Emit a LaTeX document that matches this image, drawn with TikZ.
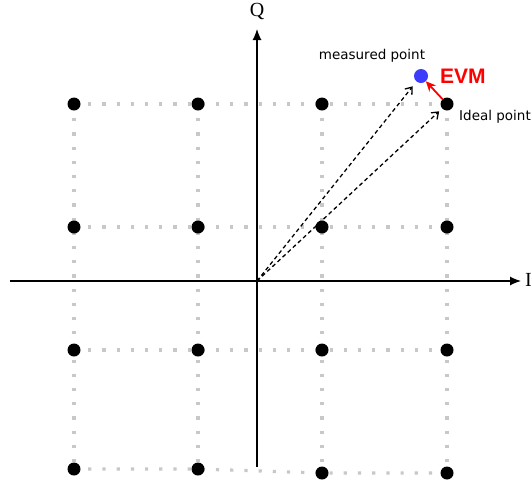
\documentclass[tikz,border=0pt]{standalone}
\usepackage{fontspec}
\setmainfont{Liberation Serif}
\newfontfamily\labfont{DejaVu Sans}
\newfontfamily\evmfont{Liberation Sans}
\usetikzlibrary{arrows.meta,backgrounds}
\definecolor{gridgray}{RGB}{200,200,200}
\definecolor{mblue}{RGB}{60,60,250}
\begin{document}
\begin{tikzpicture}[x=1pt,y=-1pt,
  dot/.style={circle,fill=black,inner sep=0pt,minimum size=13pt},
  mdot/.style={circle,fill=mblue,inner sep=0pt,minimum size=14pt},
  gridline/.style={gridgray,line width=3.2pt,dash pattern=on 3.2pt off 11pt},
  axis/.style={line width=1.2pt,-{Latex[length=11pt,width=9pt]}},
  vec/.style={line width=1.3pt,dash pattern=on 4pt off 3pt,-{Straight Barb[length=6pt,width=9pt]}},
  evmarrow/.style={red,line width=1.8pt,-{Stealth[length=10pt,width=9pt]}},
  small/.style={font=\labfont\fontsize{13.5}{16}\selectfont,inner sep=0pt},
  axlabel/.style={font=\fontsize{20}{24}\selectfont,inner sep=0pt}
]
\useasboundingbox (0,0) rectangle (532,483);
% constellation points
\node[dot] (a1) at (74,104) {};
\node[dot] (a2) at (198,104) {};
\node[dot] (a3) at (322,104) {};
\node[dot] (a4) at (447,104) {};
\node[dot] (b1) at (74,227) {};
\node[dot] (b2) at (198,227) {};
\node[dot] (b3) at (322,227) {};
\node[dot] (b4) at (447,227) {};
\node[dot] (c1) at (74,350) {};
\node[dot] (c2) at (198,350) {};
\node[dot] (c3) at (322,350) {};
\node[dot] (c4) at (447,350) {};
\node[dot] (d1) at (74,469) {};
\node[dot] (d2) at (198,469) {};
\node[dot] (d3) at (322,473) {};
\node[dot] (d4) at (447,473) {};
\node[mdot] (m) at (421,76) {};
% grid
\begin{scope}[on background layer]
\foreach \r in {a,b,c,d}{
  \draw[gridline] (\r1.center) -- (\r2.center) -- (\r3.center) -- (\r4.center);
}
\foreach \c in {1,2,3,4}{
  \draw[gridline] (a\c.center) -- (b\c.center) -- (c\c.center) -- (d\c.center);
}
\end{scope}
% axes
\coordinate (o) at (257,281);
\coordinate (xl) at (10,281);
\coordinate (xr) at (521,281);
\coordinate (yb) at (257,467);
\coordinate (yt) at (257,29);
\draw[axis] (xl) -- (xr);
\draw[axis] (yb) -- (yt);
\node[axlabel] (Q) at (257,11) {Q};
\node[axlabel,anchor=west] (I) at (525,280) {I};
% vectors
\draw[vec,shorten >=6pt] (o) -- (m);
\draw[vec,shorten >=4pt] (o) -- (a4);
\draw[evmarrow] (a4) -- (m);
% labels
\node[small] (ml) at (372,56) {measured point};
\node[small,anchor=west] (il) at (459,117) {Ideal point};
\node[font=\evmfont\bfseries\fontsize{21}{24}\selectfont,text=red,inner sep=0pt,anchor=west] (evm) at (440,76) {EVM};
\end{tikzpicture}
\end{document}
